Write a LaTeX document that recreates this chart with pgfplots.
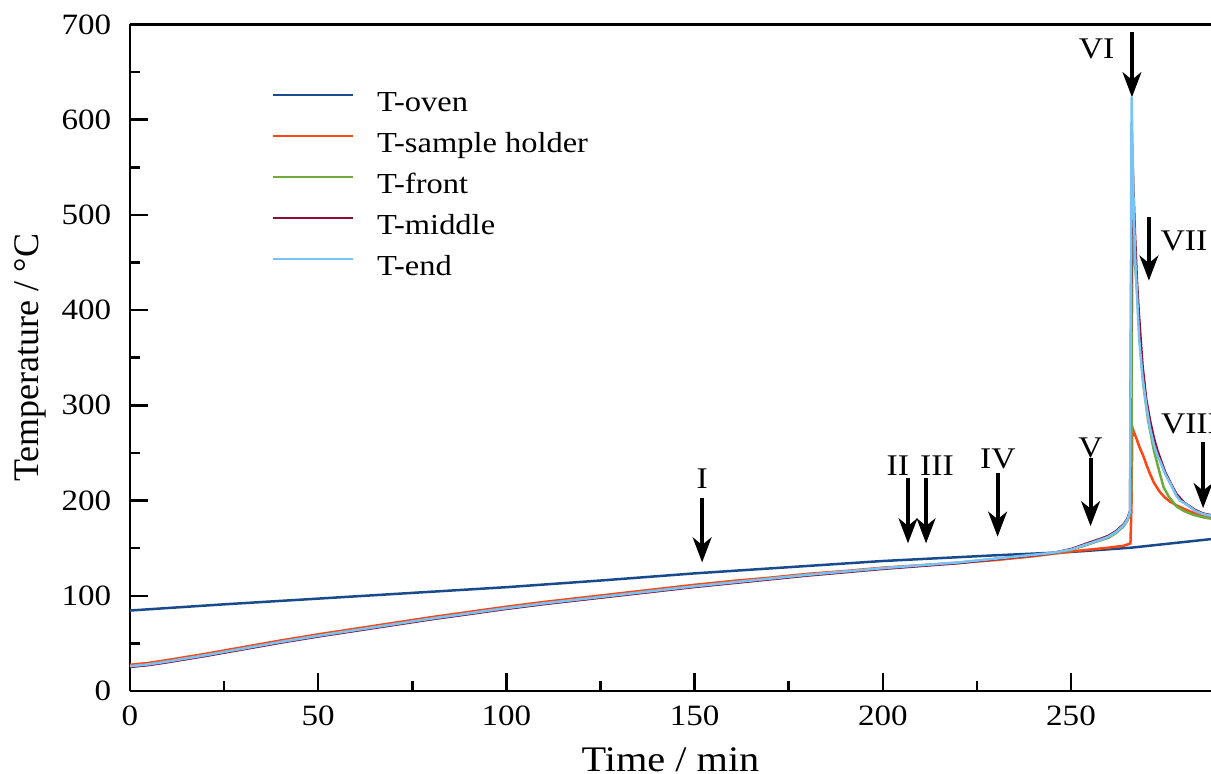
\documentclass[border=0pt]{standalone}
\usepackage{fontspec}
\setmainfont{Liberation Serif}[FakeStretch=1.12]
\newfontfamily\ylfont{Liberation Serif}
\usepackage{pgfplots}
\pgfplotsset{compat=1.18}
\usetikzlibrary{arrows.meta}
\definecolor{coven}{RGB}{25,75,140}
\definecolor{chold}{RGB}{255,69,20}
\definecolor{cfront}{RGB}{110,170,60}
\definecolor{cmid}{RGB}{140,15,50}
\definecolor{cend}{RGB}{120,195,245}
\begin{document}
\begin{tikzpicture}[arr/.style={line width=1.6pt,-{Stealth[length=10pt,width=7.5pt,inset=3pt]}},
  lab/.style={font=\fontsize{12}{12}\selectfont,inner sep=0pt}]
\begin{axis}[
  scale only axis, width=432.4pt, height=266.6pt,
  xmin=0, xmax=287.2, ymin=0, ymax=700,
  axis x line*=box, axis y line*=left,
  axis line style={line width=1.1pt},
  xtick={0,50,...,250}, ytick={0,100,...,700},
  minor x tick num=1, minor y tick num=1,
  xtick pos=bottom, ytick pos=left,
  tick align=inside,
  major tick length=7pt, minor tick length=4pt,
  every tick/.style={black,line width=1pt},
  /pgf/number format/assume math mode=true,
  ticklabel style={font=\fontsize{11.8}{12}\selectfont},
  xticklabel style={yshift=-2.4pt},
  yticklabel style={xshift=-4pt},
  xlabel={Time / min},
  ylabel={\ylfont Temperature / °C},
  xlabel style={font=\fontsize{14.4}{15}\selectfont, inner sep=0pt, at={(axis description cs:0.5,0)}, anchor=center, yshift=-27.6pt},
  ylabel style={font=\fontsize{14.4}{15}\selectfont, at={(axis description cs:-0.0925,0.5)}, anchor=center},
  legend cell align=left,
  legend image code/.code={\draw[#1,line width=0.9pt] (0pt,3.8pt) -- (32pt,3.8pt);},
  legend style={draw=none, fill=none, inner sep=0pt, outer sep=0pt,
    at={(axis description cs:0,1)}, anchor=north west, xshift=56.8pt, yshift=-26.9pt,
    font=\fontsize{11.6}{12}\selectfont,
    nodes={inner sep=0pt, text height=8pt, text depth=2.5pt},
    row sep=5.9pt,
    /tikz/every odd column/.append style={column sep=9.2pt}},
  every axis plot/.append style={line width=1pt},
]
\addplot[coven] coordinates {(0,84.5) (25,91) (50,97) (75,103) (100,109) (125,116) (150,123.5) (175,130) (200,136.5) (230,142.5) (250,146) (266,150.5) (287.2,159.5)};
\addlegendentry{T-oven}
\addplot[chold] coordinates {(0,27.5) (5,29.5) (10,32.5) (20,39) (30,46) (40,53) (50,59.5) (60,65.5) (70,71.5) (80,77.5) (90,83) (100,88.5) (110,93.5) (120,98) (130,102.5) (140,107) (150,111.5) (160,115.5) (170,119) (180,123) (190,126) (200,129.5) (210,132) (220,134.5) (230,137.5) (240,141.5) (245,144) (250,146.5) (255,148.5) (260,150.5) (264,152.5) (265.8,155) (266.1,200) (266.3,277) (266.8,271) (267.4,265) (268.2,256) (269.2,247) (270,238) (271,228) (272,219) (273.6,209) (275,203) (276.3,199) (278,195) (281.6,188.5) (284,185.5) (287.2,183)};
\addlegendentry{T-sample holder}
\addplot[cfront] coordinates {(0,25.7) (5,27.7) (10,30.7) (20,37.2) (30,44.2) (40,51.2) (50,57.7) (60,63.7) (70,69.7) (80,75.7) (90,81.2) (100,86.7) (110,91.7) (120,96.2) (130,100.7) (140,105.2) (150,109.7) (160,113.7) (170,117.7) (180,121.7) (190,125.2) (200,128.7) (210,131.7) (220,134.7) (230,138.7) (240,142.7) (245,144.7) (250,148) (255,154.5) (260,161) (262,166) (264,173) (265,179) (265.7,186) (266.0,200) (266.3,484) (266.7,462) (267.4,430) (268.3,368) (269.2,322) (270.5,284) (272,253) (273.5,230) (274.6,214) (276,204) (278,194) (280,189) (282.5,185) (285,182.5) (287.2,181)};
\addlegendentry{T-front}
\addplot[cmid] coordinates {(0,25.2) (5,27.2) (10,30.2) (20,36.7) (30,43.7) (40,50.7) (50,57.2) (60,63.2) (70,69.2) (80,75.2) (90,80.7) (100,86.2) (110,91.2) (120,95.7) (130,100.2) (140,104.7) (150,109.2) (160,113.2) (170,117.2) (180,121.2) (190,124.7) (200,128.2) (210,131.2) (220,134.2) (230,138.5) (240,142.5) (245,144.8) (250,149) (255,156) (258,160) (260,163) (262,168) (264,175) (265,181) (265.7,189) (266.2,576) (266.6,525) (267,480) (267.5,432) (268,398) (269,342) (270,306) (271,284) (272,266) (273,252) (275,230) (276.5,218) (278,207) (280,198) (283,190) (285,186.5) (287.2,184.5)};
\addlegendentry{T-middle}
\addplot[cend] coordinates {(0,26) (5,28) (10,31) (20,37.5) (30,44.5) (40,51.5) (50,58) (60,64) (70,70) (80,76) (90,81.5) (100,87) (110,92) (120,96.5) (130,101) (140,105.5) (150,110) (160,114) (170,118) (180,122) (190,125.5) (200,129) (210,132) (220,135) (230,139) (240,143) (245,145) (250,148.5) (255,155) (258,159) (260,162) (262,167) (264,174) (265,180) (265.7,188) (266.1,624) (266.4,560) (266.7,500) (267.1,450) (267.5,420) (268.1,370) (269,330) (270,300) (271,276) (272,259) (273,247) (274,238) (275,228) (276.5,217) (278,205) (279,200) (281,195) (283,189) (285,186) (287.2,184)};
\addlegendentry{T-end}
\draw[arr] (axis cs:152,202.5) -- (axis cs:152,135);
\node[lab] at (axis cs:152,222.5) {I};
\draw[arr] (axis cs:206.7,223.5) -- (axis cs:206.7,155);
\node[lab] at (axis cs:204,237) {II};
\draw[arr] (axis cs:211.5,223.5) -- (axis cs:211.5,155);
\node[lab] at (axis cs:214.4,237) {III};
\draw[arr] (axis cs:230.5,229) -- (axis cs:230.5,162);
\node[lab] at (axis cs:230.6,244) {IV};
\draw[arr] (axis cs:255.2,244.5) -- (axis cs:255.2,173);
\node[lab] at (axis cs:255.2,255) {V};
\draw[arr] (axis cs:266.2,692) -- (axis cs:266.2,623.6);
\node[lab] at (axis cs:256.8,674.7) {VI};
\draw[arr] (axis cs:270.7,497.7) -- (axis cs:270.7,431);
\node[lab] at (axis cs:280,473) {VII};
\draw[arr] (axis cs:285.1,261.6) -- (axis cs:285.1,192);
\node[lab] at (axis cs:281.6,281) {VIII};
\end{axis}
\pgfresetboundingbox
\path[use as bounding box] ([xshift=-52pt,yshift=-33.2pt]current axis.south west) rectangle ([yshift=9.8pt]current axis.north east);
\end{tikzpicture}
\end{document}
